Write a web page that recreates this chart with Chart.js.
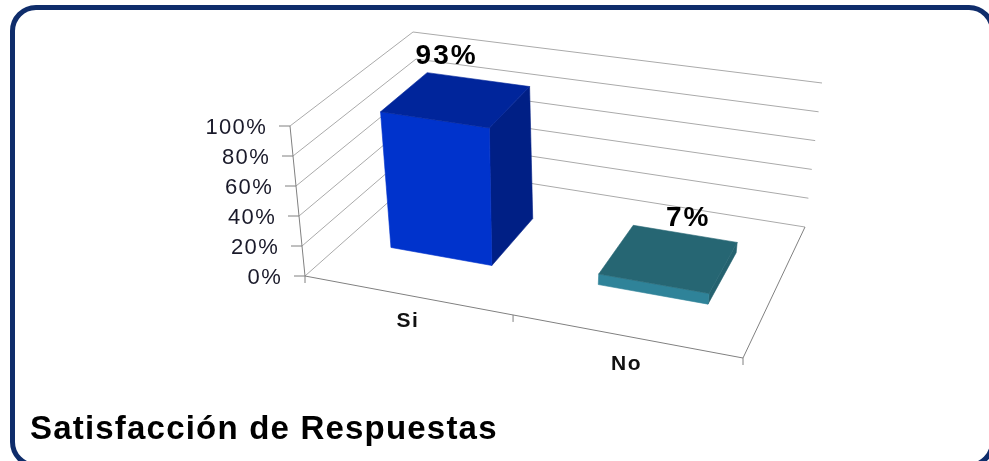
<!DOCTYPE html>
<html>
<head>
<meta charset="utf-8">
<title>Satisfacción de Respuestas</title>
<script src="https://cdn.jsdelivr.net/npm/chart.js@4"></script>
<style>
    html, body { margin: 0; background: #fff; overflow: hidden; }
    #wrap { position: relative; width: 989px; height: 461px; overflow: hidden; filter: blur(0.4px); }
    #frame { position: absolute; left: 10px; top: 5px; width: 985px; height: 463px; border: 5px solid #0f2d6b; border-radius: 26px; box-sizing: border-box; }
    canvas { position: absolute; left: 0; top: 0; }
</style>
</head>
<body>
<div id="wrap">
    <div id="frame"></div>
    <canvas id="chart" width="989" height="461"></canvas>
</div>
<script>
const categories = ['Si', 'No'];
const values = [93, 7];
const valueLabels = ['93%', '7%'];
const tickLabels = ['0%', '20%', '40%', '60%', '80%', '100%'];

const FONT = '"Liberation Sans", Arial, sans-serif';

// box corners of the 3D plot, in canvas pixels: floor and top of each vertical edge
const box = {
    fl: { x: 305, y: 276, tx: 290, ty: 126 },
    fr: { x: 743, y: 358, tx: 765, ty: 200 },
    bl: { x: 428, y: 167, tx: 413, ty: 32 },
    br: { x: 805, y: 227, tx: 822, ty: 83 }
};
const xWarp = 1.074;               // perspective along the category axis
const barDepth = [0.335, 0.737];
const barColors = [
    { front: '#0033cc', top: '#00259b', side: '#001f85' },
    { front: '#2f8399', top: '#266673', side: '#25626f' }
];
const valueLabelPos = [{ dx: -9, dy: -43 }, { dx: 19, dy: -40 }];
const catLabelPos = [{ dx: 4, dy: 27 }, { dx: 0, dy: 28 }];

function lerp(a, b, t) { return a + (b - a) * t; }

// u along categories, v into depth, w up the value axis, all 0..1
function project(u, v, w) {
    const pu = Math.pow(u, xWarp);
    const corner = c => ({ x: lerp(c.x, c.tx, w), y: lerp(c.y, c.ty, w) });
    const a = corner(box.fl), b = corner(box.fr), c = corner(box.bl), d = corner(box.br);
    const fx = lerp(a.x, b.x, pu), fy = lerp(a.y, b.y, pu);
    const bx = lerp(c.x, d.x, pu), by = lerp(c.y, d.y, pu);
    return { x: lerp(fx, bx, v), y: lerp(fy, by, v) };
}

function line(ctx, p, q, color, width) {
    ctx.strokeStyle = color;
    ctx.lineWidth = width;
    ctx.beginPath();
    ctx.moveTo(p.x, p.y);
    ctx.lineTo(q.x, q.y);
    ctx.stroke();
}

function face(ctx, pts, color) {
    ctx.fillStyle = color;
    ctx.strokeStyle = color;
    ctx.lineWidth = 0.6;
    ctx.beginPath();
    pts.forEach((p, i) => i ? ctx.lineTo(p.x, p.y) : ctx.moveTo(p.x, p.y));
    ctx.closePath();
    ctx.fill();
    ctx.stroke();
}

function norm(chart) {
    const { left, right, top, bottom } = chart.chartArea;
    return {
        u: px => (px - left) / (right - left),
        w: py => (bottom - py) / (bottom - top)
    };
}

const walls = {
    id: 'walls',
    beforeDraw(chart) {
        // picked up by the title, which the library draws next
        chart.ctx.letterSpacing = '1.2px';
    },
    beforeDatasetsDraw(chart) {
        const ctx = chart.ctx;
        const n = norm(chart);
        const yScale = chart.scales.y;
        const xScale = chart.scales.x;
        ctx.save();
        yScale.ticks.forEach(t => {
            const w = n.w(yScale.getPixelForValue(t.value));
            const a = project(0, 0, w), b = project(0, 1, w), c = project(1, 1, w);
            line(ctx, a, b, '#aaa', 1);
            line(ctx, b, c, '#aaa', 1);
            line(ctx, { x: a.x - 11, y: a.y }, a, '#808080', 1);
            ctx.font = '22px ' + FONT;
            ctx.letterSpacing = '1.3px';
            ctx.fillStyle = '#1a1a2a';
            ctx.textAlign = 'right';
            ctx.textBaseline = 'middle';
            ctx.fillText(t.label, a.x - 23, a.y + 2);
        });
        // front and right floor edges, and the value axis
        line(ctx, project(0, 0, 0), project(1, 0, 0), '#808080', 1);
        line(ctx, project(1, 0, 0), project(1, 1, 0), '#808080', 1);
        line(ctx, project(0, 0, 0), project(0, 0, 1), '#808080', 1);
        [0, 0.5, 1].forEach(u => {
            const p = project(u, 0, 0);
            line(ctx, p, { x: p.x, y: p.y + 7 }, '#808080', 1);
        });
        categories.forEach((cat, i) => {
            const p = project(n.u(xScale.getPixelForValue(i)), 0, 0);
            ctx.font = 'bold 21px ' + FONT;
            ctx.letterSpacing = '1.5px';
            ctx.fillStyle = '#111';
            ctx.textAlign = 'center';
            ctx.textBaseline = 'middle';
            ctx.fillText(cat, p.x + catLabelPos[i].dx, p.y + catLabelPos[i].dy);
        });
        ctx.restore();
    },
    afterDatasetsDraw(chart) {
        const ctx = chart.ctx;
        const n = norm(chart);
        ctx.save();
        chart.getDatasetMeta(0).data.forEach((bar, i) => {
            const u0 = n.u(bar.x - bar.width / 2), u1 = n.u(bar.x + bar.width / 2);
            const w = n.w(bar.y);
            const [v0, v1] = barDepth;
            const c = barColors[i];
            face(ctx, [project(u1, v0, 0), project(u1, v1, 0), project(u1, v1, w), project(u1, v0, w)], c.side);
            face(ctx, [project(u0, v0, 0), project(u1, v0, 0), project(u1, v0, w), project(u0, v0, w)], c.front);
            face(ctx, [project(u0, v0, w), project(u1, v0, w), project(u1, v1, w), project(u0, v1, w)], c.top);
            const p = project((u0 + u1) / 2, (v0 + v1) / 2, w);
            ctx.font = 'bold 28px ' + FONT;
            ctx.letterSpacing = '2px';
            ctx.fillStyle = '#000';
            ctx.textAlign = 'center';
            ctx.textBaseline = 'middle';
            ctx.fillText(valueLabels[i], p.x + valueLabelPos[i].dx, p.y + valueLabelPos[i].dy);
        });
        ctx.restore();
    }
};

new Chart(document.getElementById('chart').getContext('2d'), {
    type: 'bar',
    data: {
        labels: categories,
        datasets: [{ data: values, backgroundColor: 'transparent', barPercentage: 0.5, categoryPercentage: 1 }]
    },
    options: {
        responsive: false,
        animation: false,
        layout: { padding: { left: 30, right: 246, top: 126, bottom: 11 } },
        plugins: {
            legend: { display: false },
            tooltip: { enabled: false },
            title: {
                display: true,
                text: 'Satisfacción de Respuestas',
                position: 'bottom',
                align: 'start',
                color: '#000',
                font: { family: FONT, size: 33, weight: 'bold' },
                padding: { top: 0, bottom: 0 }
            }
        },
        scales: {
            x: { display: false },
            y: {
                display: false,
                min: 0,
                max: 100,
                ticks: { stepSize: 20, callback: (v, i) => tickLabels[i] }
            }
        }
    },
    plugins: [walls]
});
</script>
</body>
</html>
